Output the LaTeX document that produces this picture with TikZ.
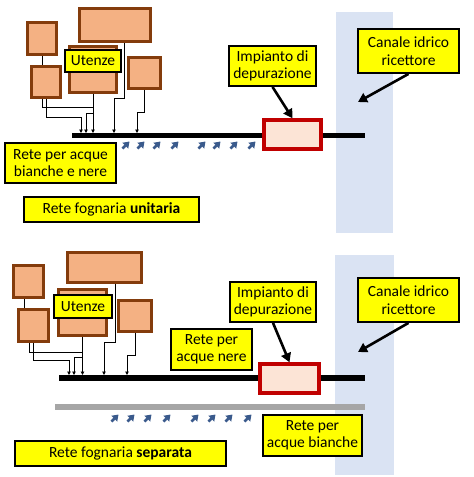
\documentclass[tikz,border=0pt]{standalone}
\usepackage{fontspec}
\setmainfont{Carlito}
\usetikzlibrary{arrows.meta,positioning,calc}

\definecolor{tagyellow}{HTML}{FFFF00}
\definecolor{userfill}{HTML}{F4B183}
\definecolor{userdraw}{HTML}{843C0C}
\definecolor{plantdraw}{HTML}{C00000}
\definecolor{plantfill}{HTML}{FCE4D6}
\definecolor{bandfill}{HTML}{DAE3F3}
\definecolor{flowblue}{HTML}{3A5A8C}
\definecolor{pipegrey}{HTML}{A6A6A6}

\tikzset{
  tag/.style={draw, line width=1.8pt, fill=tagyellow, align=center, inner sep=1pt,
    font=\fontsize{15.5}{17.5}\selectfont},
  user/.style={draw=userdraw, fill=userfill, line width=2.8pt},
  plant/.style={draw=plantdraw, fill=plantfill, line width=3.5pt},
  pipe/.style={line width=5.5pt},
  feed/.style={line width=0.9pt, -{Triangle[length=3.5pt,width=3.5pt]}},
  link/.style={line width=0.9pt},
  pointer/.style={line width=2.6pt, -{Triangle[length=9pt,width=10pt]}},
  flow/.style={flowblue, line width=2.6pt, -{Triangle[length=6pt,width=8pt]}},
}

\begin{document}
\begin{tikzpicture}[x=1pt,y=-1pt]
\useasboundingbox (0,0) rectangle (474,477);

% ---------- Rete unitaria (top) ----------
\fill[bandfill] (336,12) rectangle (393,233);
\coordinate (pipeL) at (72,135.5);
\coordinate (pipeR) at (365,135.5);
\draw[pipe] (pipeL) -- (pipeR);
\node[plant, minimum width=57pt, minimum height=29pt] (plant) at (292.5,134.5) {};

% utenze
\node[user, minimum width=29pt, minimum height=32pt] (uA) at (42,38.5) {};
\node[user, minimum width=71pt, minimum height=33pt] (uB) at (115,25) {};
\node[user, minimum width=47pt, minimum height=46pt] (uC) at (93,69.5) {};
\node[user, minimum width=29pt, minimum height=31pt] (uD) at (46,82) {};
\node[user, minimum width=32pt, minimum height=31pt] (uE) at (144.5,73) {};
\node[tag, minimum width=56pt, minimum height=22pt] (users) at (93,61) {Utenze};

% scarichi
\draw[link] (uA.south) -- (uA.south |- uD.north);
\draw[link] ([xshift=-4pt]uD.south) |- (94,107);
\draw[feed] (uD.south) |- (81,117) -- (81,133);
\draw[feed] (uC.south) -- (93,133);
\draw[feed] (93,113) -| (86,133);
\draw[feed] ([xshift=9pt]uB.south) |- (114,98) -- (114,133);
\draw[feed] (uE.south) |- (137,112) -- (137,133);

% etichette
\node[tag, minimum width=87pt, minimum height=40pt] (plantTag) at (272.5,66) {Impianto di\\depurazione};
\node[tag, minimum width=101pt, minimum height=44pt] (river) at (408.5,51) {Canale idrico\\ricettore};
\coordinate (riverA) at (358,102);
\node[tag, minimum width=111pt, minimum height=40pt] (mixed) at (60.5,163) {Rete per acque\\bianche e nere};
\node[tag, minimum width=175pt, minimum height=25pt] (title) at (111.5,209.5) {Rete fognaria \textbf{unitaria}};
\draw[pointer] (plantTag.south) -- (plant.north);
\draw[pointer] (river.south) -- (riverA);

% infiltrazioni
\foreach \x in {126,141,157,175,202,217,234,252}
  \draw[flow] (\x-3.5,148.5) -- (\x+3.5,141.5);

% ---------- Rete separata (bottom) ----------
\fill[bandfill] (335,255) rectangle (394,475);
\coordinate (pipeBL) at (59,378);
\coordinate (pipeBR) at (365,378);
\draw[pipe] (pipeBL) -- (pipeBR);
\coordinate (greyL) at (55,407);
\coordinate (greyR) at (365,407);
\draw[pipegrey, line width=6pt] (greyL) -- (greyR);
\node[plant, minimum width=59pt, minimum height=29pt] (plantB) at (289.5,378.5) {};

% utenze
\node[user, minimum width=30pt, minimum height=32pt] (uA2) at (28.5,281.5) {};
\node[user, minimum width=74pt, minimum height=30pt] (uB2) at (104.5,267.5) {};
\node[user, minimum width=48pt, minimum height=46pt] (uC2) at (82.5,312.5) {};
\node[user, minimum width=30pt, minimum height=32pt] (uD2) at (33.5,325.5) {};
\node[user, minimum width=33pt, minimum height=31pt] (uE2) at (135,316) {};
\node[tag, minimum width=58pt, minimum height=23pt] (usersB) at (83,306.5) {Utenze};

% scarichi
\draw[link] ([xshift=-4.5pt]uA2.south |- uA2.south) -- ([xshift=-4.5pt]uA2.south |- uD2.north);
\draw[link] ([xshift=-4.5pt]uD2.south) |- (83,352);
\draw[feed] ([xshift=-0.5pt]uD2.south) |- (69,360) -- (69,375);
\draw[feed] (uC2.south) -- (82.5,375);
\draw[feed] (82.5,357) -| (74,375);
\draw[feed] ([xshift=10.5pt]uB2.south) |- (104,342) -- (104,375);
\draw[feed] (uE2.south) |- (127,355) -- (127,375);

% etichette
\node[tag, minimum width=86pt, minimum height=40pt] (plantTagB) at (273,302) {Impianto di\\depurazione};
\node[tag, minimum width=101pt, minimum height=44pt] (riverB) at (408.5,300) {Canale idrico\\ricettore};
\coordinate (riverBA) at (358,352);
\node[tag, minimum width=81pt, minimum height=41pt] (black) at (211.5,349.5) {Rete per\\acque nere};
\node[tag, minimum width=99pt, minimum height=41pt] (white) at (312.5,435.5) {Rete per\\acque bianche};
\node[tag, minimum width=211pt, minimum height=25pt] (titleB) at (120.5,453.5) {Rete fognaria \textbf{separata}};
\draw[pointer] (plantTagB.south) -- (plantB.north);
\draw[pointer] (riverB.south) -- (riverBA);

% infiltrazioni
\foreach \x in {115,131,148,167,195,212,229,248}
  \draw[flow] (\x-3.5,421.5) -- (\x+3.5,414.5);
\end{tikzpicture}
\end{document}
